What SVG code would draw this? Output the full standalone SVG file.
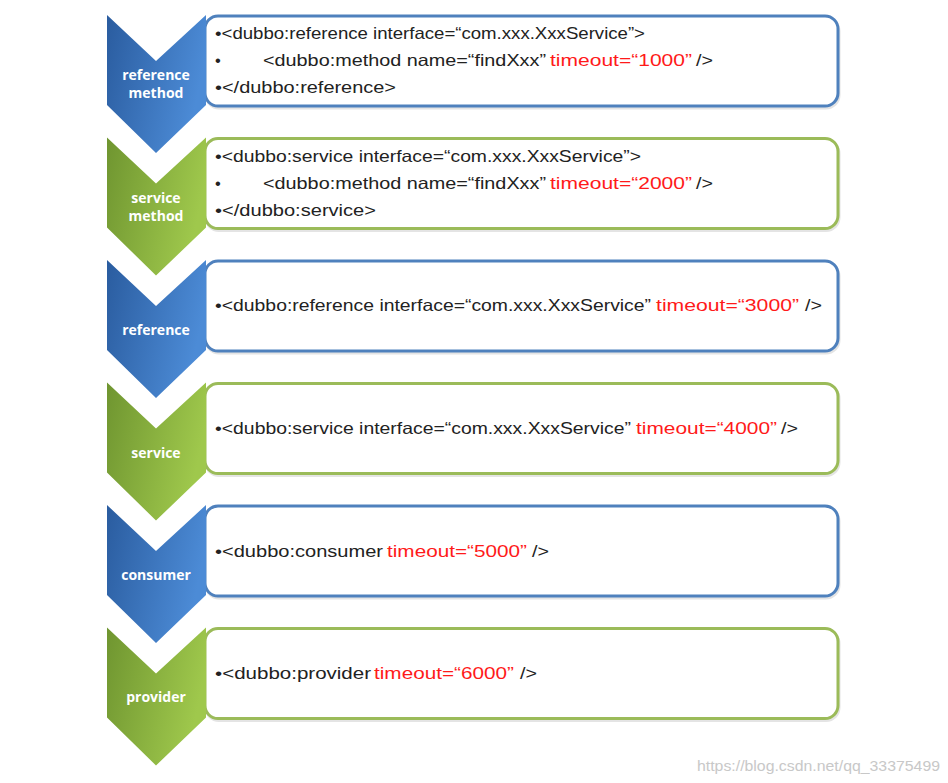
<svg xmlns="http://www.w3.org/2000/svg" width="948" height="783" viewBox="0 0 948 783">
<defs>
<linearGradient id="gb" x1="0" y1="0" x2="1" y2="0.3">
<stop offset="0" stop-color="#2a5c9f"/>
<stop offset="1" stop-color="#4c8bd6"/>
</linearGradient>
<linearGradient id="gg" x1="0" y1="0" x2="1" y2="0.3">
<stop offset="0" stop-color="#6f9530"/>
<stop offset="1" stop-color="#9fc84c"/>
</linearGradient>
<path id="chev" d="M107,0 L156,46 L206,0 L206,90 L156,138 L107,90 Z"/>
</defs>
<style>
.bx{fill:#fff;stroke-width:3}
.bb{stroke:#4f81bd}
.bg{stroke:#9bbb59}
.sh{fill:none;stroke:#e4e4e4;stroke-width:3}
.t{font-family:"Liberation Sans",Arial,sans-serif;font-size:16.5px;fill:#222}
.r{fill:#ff1a1a}
.lb{font-family:"Open Sans","Liberation Sans",sans-serif;font-size:14px;font-weight:bold;fill:#fff;text-anchor:middle}
.wm{font-family:"Liberation Sans",Arial,sans-serif;font-size:15px;fill:#c8c8c8}
</style>
<rect width="948" height="783" fill="#fff"/>

<g id="row1">
<rect class="sh" x="206" y="18" width="633" height="90" rx="13"/>
<rect class="bx bb" x="205" y="16" width="633" height="90" rx="13"/>
<use href="#chev" y="15" fill="url(#gb)"/>
<text class="lb" x="156" y="80">reference</text>
<text class="lb" x="156" y="98">method</text>
<text class="t" x="215" y="39" textLength="430" lengthAdjust="spacingAndGlyphs">•&lt;dubbo:reference interface=“com.xxx.XxxService”&gt;</text>
<text class="t" x="215" y="66">•</text>
<text class="t" x="263" y="66" textLength="283" lengthAdjust="spacingAndGlyphs">&lt;dubbo:method name=“findXxx”</text>
<text class="t r" x="550" y="66" textLength="142" lengthAdjust="spacingAndGlyphs">timeout=“1000”</text>
<text class="t" x="696" y="66" textLength="17" lengthAdjust="spacingAndGlyphs">/&gt;</text>
<text class="t" x="215" y="93" textLength="181" lengthAdjust="spacingAndGlyphs">•&lt;/dubbo:reference&gt;</text>
</g>

<g id="row2">
<rect class="sh" x="206" y="140.5" width="633" height="90" rx="13"/>
<rect class="bx bg" x="205" y="138.5" width="633" height="90" rx="13"/>
<use href="#chev" y="137.5" fill="url(#gg)"/>
<text class="lb" x="156" y="203">service</text>
<text class="lb" x="156" y="221">method</text>
<text class="t" x="215" y="162" textLength="426" lengthAdjust="spacingAndGlyphs">•&lt;dubbo:service interface=“com.xxx.XxxService”&gt;</text>
<text class="t" x="215" y="189">•</text>
<text class="t" x="263" y="189" textLength="283" lengthAdjust="spacingAndGlyphs">&lt;dubbo:method name=“findXxx”</text>
<text class="t r" x="550" y="189" textLength="142" lengthAdjust="spacingAndGlyphs">timeout=“2000”</text>
<text class="t" x="696" y="189" textLength="17" lengthAdjust="spacingAndGlyphs">/&gt;</text>
<text class="t" x="215" y="216" textLength="161" lengthAdjust="spacingAndGlyphs">•&lt;/dubbo:service&gt;</text>
</g>

<g id="row3">
<rect class="sh" x="206" y="263" width="633" height="90" rx="13"/>
<rect class="bx bb" x="205" y="261" width="633" height="90" rx="13"/>
<use href="#chev" y="260" fill="url(#gb)"/>
<text class="lb" x="156" y="335">reference</text>
<text class="t" x="215" y="311" textLength="436" lengthAdjust="spacingAndGlyphs">•&lt;dubbo:reference interface=“com.xxx.XxxService”</text>
<text class="t r" x="656" y="311" textLength="143" lengthAdjust="spacingAndGlyphs">timeout=“3000”</text>
<text class="t" x="805" y="311" textLength="17" lengthAdjust="spacingAndGlyphs">/&gt;</text>
</g>

<g id="row4">
<rect class="sh" x="206" y="385.5" width="633" height="90" rx="13"/>
<rect class="bx bg" x="205" y="383.5" width="633" height="90" rx="13"/>
<use href="#chev" y="382.5" fill="url(#gg)"/>
<text class="lb" x="156" y="458">service</text>
<text class="t" x="215" y="434" textLength="416" lengthAdjust="spacingAndGlyphs">•&lt;dubbo:service interface=“com.xxx.XxxService”</text>
<text class="t r" x="636" y="434" textLength="141" lengthAdjust="spacingAndGlyphs">timeout=“4000”</text>
<text class="t" x="781" y="434" textLength="17" lengthAdjust="spacingAndGlyphs">/&gt;</text>
</g>

<g id="row5">
<rect class="sh" x="206" y="508" width="633" height="90" rx="13"/>
<rect class="bx bb" x="205" y="506" width="633" height="90" rx="13"/>
<use href="#chev" y="505" fill="url(#gb)"/>
<text class="lb" x="156" y="580">consumer</text>
<text class="t" x="215" y="557" textLength="168" lengthAdjust="spacingAndGlyphs">•&lt;dubbo:consumer</text>
<text class="t r" x="387" y="557" textLength="140" lengthAdjust="spacingAndGlyphs">timeout=“5000”</text>
<text class="t" x="532" y="557" textLength="17" lengthAdjust="spacingAndGlyphs">/&gt;</text>
</g>

<g id="row6">
<rect class="sh" x="206" y="630.5" width="633" height="90" rx="13"/>
<rect class="bx bg" x="205" y="628.5" width="633" height="90" rx="13"/>
<use href="#chev" y="627.5" fill="url(#gg)"/>
<text class="lb" x="156" y="702">provider</text>
<text class="t" x="215" y="679" textLength="156" lengthAdjust="spacingAndGlyphs">•&lt;dubbo:provider</text>
<text class="t r" x="374" y="679" textLength="140" lengthAdjust="spacingAndGlyphs">timeout=“6000”</text>
<text class="t" x="520" y="679" textLength="17" lengthAdjust="spacingAndGlyphs">/&gt;</text>
</g>

<g id="connectors"/>

<text class="wm" x="697" y="771" textLength="243" lengthAdjust="spacingAndGlyphs">https://blog.csdn.net/qq_33375499</text>
</svg>
